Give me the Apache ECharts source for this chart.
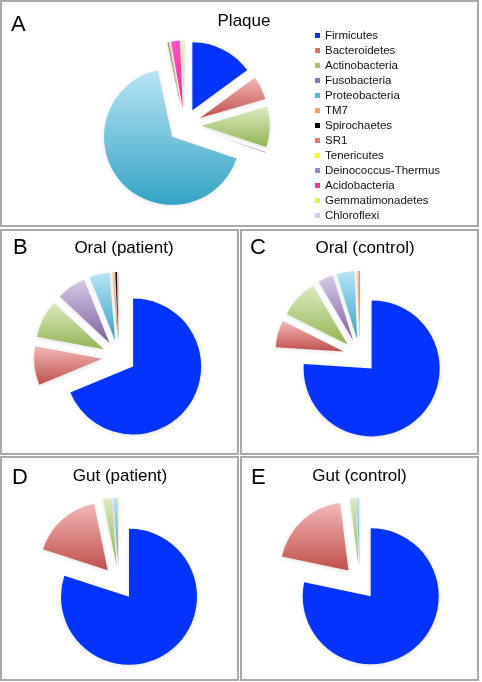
<!DOCTYPE html>
<html>
<head>
<meta charset="utf-8">
<script src="https://cdn.jsdelivr.net/npm/echarts@6/dist/echarts.min.js"></script>
<style>
html,body{margin:0;padding:0;background:#fff;}
#chart{width:482px;height:682px;}
</style>
</head>
<body>
<div id="chart"></div>
<script>
// ---- data ----
const phyla = ['Firmicutes','Bacteroidetes','Actinobacteria','Fusobacteria','Proteobacteria','TM7','Spirochaetes','SR1','Tenericutes','Deinococcus-Thermus','Acidobacteria','Gemmatimonadetes','Chloroflexi'];
const plaque       = [15.0, 5.6, 9.6, 0.1, 66.8, 0.2, 0.1, 0.1, 0.1, 0.1, 2.1, 0.5, 0.2];
const oralPatient  = [68.8, 9.2, 9.0, 7.0, 4.7, 0.6, 0.4, 0.1, 0.05, 0.05, 0.05, 0.05, 0.05];
const oralControl  = [76.2, 6.4, 9.2, 3.6, 4.2, 0.5, 0.1, 0.05, 0, 0, 0, 0, 0];
const gutPatient   = [80.0, 16.8, 2.0, 0.1, 0.9, 0, 0, 0, 0.1, 0, 0, 0, 0.1];
const gutControl   = [78.3, 19.7, 1.2, 0.1, 0.5, 0, 0, 0, 0.1, 0, 0, 0, 0.1];
const panelTitles  = ['Plaque','Oral (patient)','Oral (control)','Gut (patient)','Gut (control)'];
const panelLetters = ['A','B','C','D','E'];

// ---- styles ----
const gradTop = ['#0433ff','#f2b8b6','#dcebc0','#d6cbe6','#b8e4f4','#fbd0b0','#111111','#f0a0a0','#ffff66','#c8b8e0','#ff55c0','#e8f8a0','#d8e4f8'];
const gradBot = ['#0433ff','#c0504d','#93b454','#7d5fa0','#33a3c4','#e8843c','#111111','#d05a56','#ffee00','#9080b8','#ff2090','#c8e860','#b8cce8'];
const legendColors = ['#0433ff','#d9706c','#a6c46a','#9478b4','#5bb8d4','#f4a060','#000000','#e07a76','#ffff00','#9a88c4','#ff3399','#ccff33','#c4d4f0'];

const FONT = 'Liberation Sans, Arial, Helvetica, sans-serif';

function makeSeries(values, center) {
  return {
    type: 'pie',
    radius: 68,
    center: center,
    startAngle: 90,
    clockwise: true,
    selectedMode: 'multiple',
    selectedOffset: 17,
    silent: true,
    animation: false,
    label: {show: false},
    labelLine: {show: false},
    emphasis: {disabled: true},
    select: {itemStyle: {}},
    data: values.map((v, i) => ({
      name: phyla[i],
      value: v,
      selected: true,
      itemStyle: {
        color: new echarts.graphic.LinearGradient(0, 0, 0, 1, [
          {offset: 0, color: gradTop[i]},
          {offset: 1, color: gradBot[i]}
        ]),
        shadowBlur: 4,
        shadowColor: 'rgba(0,0,0,0.12)',
        shadowOffsetY: 1
      }
    }))
  };
}

const centers = [[184.7,125.5],[119,357],[360,356],[119,583],[360,583]];
const datasets = [plaque, oralPatient, oralControl, gutPatient, gutControl];

// panel boxes
const boxes = [
  {x:1, y:1, w:477, h:225},
  {x:1, y:230, w:237, h:224},
  {x:241, y:230, w:237, h:224},
  {x:1, y:457, w:237, h:223},
  {x:241, y:457, w:237, h:223}
];
const titlePos = [[244,21,17],[124,248.3,17],[365,248.3,17],[120,476,17],[359.5,476,17]];
const letterPos = [[11,25],[13,248.3],[250,248.3],[12,477.5],[251,477.5]];

const graphics = [];
boxes.forEach(b => graphics.push({
  type:'rect', silent:true, z:-1,
  shape:{x:b.x, y:b.y, width:b.w, height:b.h},
  style:{fill:'none', stroke:'#a9a9a9', lineWidth:2}
}));
panelTitles.forEach((t, i) => graphics.push({
  type:'text', silent:true,
  x: titlePos[i][0], y: titlePos[i][1],
  style:{text:t, fill:'#000', font: titlePos[i][2] + 'px ' + FONT, textAlign:'center', textVerticalAlign:'middle'}
}));
panelLetters.forEach((t, i) => graphics.push({
  type:'text', silent:true,
  x: letterPos[i][0], y: letterPos[i][1],
  style:{text:t, fill:'#000', font: '22px ' + FONT, textAlign:'left', textVerticalAlign:'middle'}
}));

const chart = echarts.init(document.getElementById('chart'), null, {renderer:'canvas'});
chart.setOption({
  animation: false,
  backgroundColor: '#ffffff',
  legend: {
    orient: 'vertical',
    left: 315,
    top: 28,
    padding: 0,
    itemGap: 0,
    itemWidth: 5,
    itemHeight: 5,
    icon: 'rect',
    selectedMode: false,
    textStyle: {fontFamily: FONT, fontSize: 11.5, lineHeight: 15, color: '#111'},
    data: phyla.map((n, i) => ({name: n, itemStyle: {color: legendColors[i], shadowBlur: 0}}))
  },
  graphic: graphics,
  series: datasets.map((d, i) => makeSeries(d, centers[i]))
});
</script>
</body>
</html>
